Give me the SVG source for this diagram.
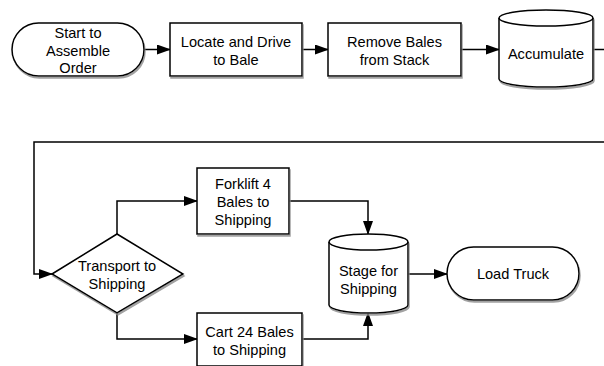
<svg xmlns="http://www.w3.org/2000/svg" width="604" height="366" viewBox="0 0 604 366">
<defs>
<filter id="sh" x="-10%" y="-10%" width="130%" height="140%">
<feDropShadow dx="1" dy="2" stdDeviation="0.6" flood-color="#8a8a8a" flood-opacity="0.8"/>
</filter>
<marker id="ah" markerWidth="14" markerHeight="10" refX="13" refY="5" orient="auto" markerUnits="userSpaceOnUse">
<path d="M0,0 L14,5 L0,10 Z" fill="#000"/>
</marker>
</defs>
<style>
.s{fill:#fff;stroke:#000;stroke-width:1.5;filter:url(#sh)}
.t{font-family:"Liberation Sans",Arial,sans-serif;font-size:14.6px;fill:#000;text-anchor:middle}
.c{fill:none;stroke:#000;stroke-width:1.5}
.a{marker-end:url(#ah)}
</style>
<rect width="604" height="366" fill="#fff"/>
<g id="connectors">
<path class="c a" d="M144,49.5 H170"/>
<path class="c a" d="M302,49.5 H328"/>
<path class="c a" d="M461,49.5 H499"/>
<path class="c" d="M593,49.5 H604"/>
<path class="c a" d="M604,142 H34 V274 H52"/>
<path class="c a" d="M117,234 V201 H197"/>
<path class="c a" d="M289,201 H368 V234"/>
<path class="c a" d="M117,313 V339 H197"/>
<path class="c a" d="M302,339 H368 V313"/>
<path class="c a" d="M408,274 H447"/>
</g>
<g id="start">
<rect class="s" x="12" y="23" width="132" height="53" rx="26.5"/>
<text class="t" x="78" y="38">Start to</text>
<text class="t" x="78" y="55.5">Assemble</text>
<text class="t" x="78" y="73">Order</text>
</g>
<g id="locate">
<rect class="s" x="170" y="23" width="132" height="53"/>
<text class="t" x="236" y="47">Locate and Drive</text>
<text class="t" x="236" y="64.5">to Bale</text>
</g>
<g id="remove">
<rect class="s" x="328" y="23" width="133" height="53"/>
<text class="t" x="394.5" y="47">Remove Bales</text>
<text class="t" x="394.5" y="64.5">from Stack</text>
</g>
<g id="accumulate">
<path class="s" d="M499,18 A47,8 0 0 1 593,18 V79 A47,8 0 0 1 499,79 Z"/>
<path class="c" d="M499,18 A47,8 0 0 0 593,18"/>
<text class="t" x="546" y="59">Accumulate</text>
</g>
<g id="decision">
<polygon class="s" points="52,274 117,234 183,274 117,313"/>
<text class="t" x="117" y="271">Transport to</text>
<text class="t" x="117" y="288.5">Shipping</text>
</g>
<g id="forklift">
<rect class="s" x="197" y="168" width="92" height="66"/>
<text class="t" x="243" y="189">Forklift 4</text>
<text class="t" x="243" y="207">Bales to</text>
<text class="t" x="243" y="225">Shipping</text>
</g>
<g id="cart">
<rect class="s" x="197" y="313" width="105" height="53"/>
<text class="t" x="249.5" y="337">Cart 24 Bales</text>
<text class="t" x="249.5" y="355">to Shipping</text>
</g>
<g id="stage">
<path class="s" d="M329,242 A39.5,8 0 0 1 408,242 V305 A39.5,8 0 0 1 329,305 Z"/>
<path class="c" d="M329,242 A39.5,8 0 0 0 408,242"/>
<text class="t" x="368.5" y="276">Stage for</text>
<text class="t" x="368.5" y="293.5">Shipping</text>
</g>
<g id="load">
<rect class="s" x="447" y="247" width="132" height="53" rx="26.5"/>
<text class="t" x="513" y="279">Load Truck</text>
</g>
</svg>
